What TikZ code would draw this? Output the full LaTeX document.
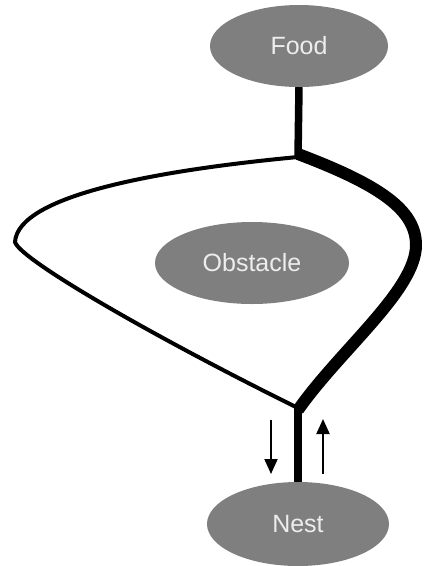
\documentclass[tikz,border=0pt]{standalone}
\usepackage{fontspec}
\setmainfont{Liberation Sans}
\usetikzlibrary{shapes.geometric,arrows.meta}
\definecolor{blobgray}{HTML}{7F7F7F}
\definecolor{blobtext}{HTML}{EDEDED}
\tikzset{
  blob/.style={ellipse,draw=none,fill=blobgray,inner sep=0pt,text=blobtext,font=\fontsize{25}{25}\selectfont},
  stem/.style={line width=7.5pt,line cap=butt},
  thinpath/.style={line width=4pt,line cap=butt},
  thickpath/.style={line width=12pt,line cap=butt,line join=round},
  flow/.style={line width=2pt,-{Triangle[length=15pt,width=13pt]}}
}
\begin{document}
\begin{tikzpicture}[x=1pt,y=-1pt]
\useasboundingbox (0,0) rectangle (424,566);
\node[blob,minimum width=178pt,minimum height=82pt] (food) at (299,46) {Food};
\node[blob,minimum width=194pt,minimum height=82pt] (obst) at (252,263) {Obstacle};
\node[blob,minimum width=182pt,minimum height=84pt] (nest) at (298,524) {Nest};
\coordinate (jt) at (298,157);
\coordinate (jb) at (298,408);
\coordinate (dA) at (271,420);
\coordinate (dB) at (271,474);
\coordinate (uA) at (323,474);
\coordinate (uB) at (323,419);
\draw[stem] (food.south) -- (jt);
\draw[stem] (jb) -- (nest.north);
\draw[thinpath] (jt) .. controls (160,170) and (18,195) .. (15,242)
  .. controls (20,260) and (160,340) .. (jb);
\draw[thickpath] ([yshift=3pt]jt) .. controls (380,185) and (416,210) .. (416,245)
  .. controls (416,290) and (340,350) .. ([yshift=-2pt]jb);
\draw[flow] (dA) -- (dB);
\draw[flow] (uA) -- (uB);
\end{tikzpicture}
\end{document}
